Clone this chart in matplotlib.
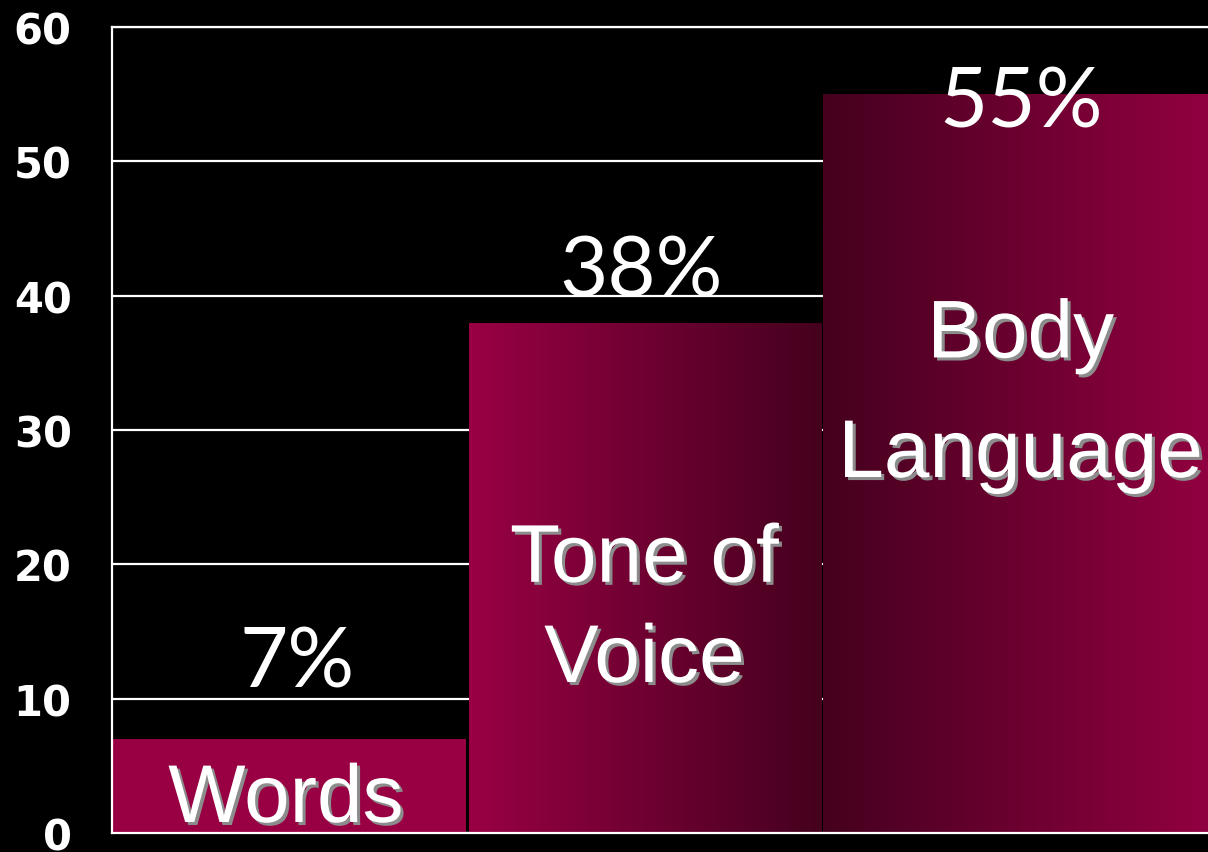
import numpy as np
import matplotlib
matplotlib.use("Agg")
import matplotlib.pyplot as plt
from matplotlib import patheffects
from matplotlib.colors import LinearSegmentedColormap

# Share of communication impact by channel (percent)
categories = ["Words", "Tone of Voice", "Body Language"]
values = [7, 38, 55]
label_lines = [["Words"], ["Tone of", "Voice"], ["Body", "Language"]]
y_ticks = [0, 10, 20, 30, 40, 50, 60]

CRIMSON = "#990044"
DARK = "#45001e"

fig = plt.figure(figsize=(12.08, 8.53), dpi=100, facecolor="black")
ax = fig.add_axes([112 / 1208, 19 / 853, 1136 / 1208, 806 / 853])
ax.set_facecolor("black")

# Horizontal grid lines behind the bars
ax.set_yticks(y_ticks)
ax.yaxis.grid(True, color="white", linewidth=1.6, zorder=0)
ax.set_axisbelow(True)
ax.set_xticks([])
ax.tick_params(axis="y", length=0, pad=29, labelsize=30, labelcolor="white")
for lbl in ax.get_yticklabels():
    lbl.set_fontweight("bold")
    lbl.set_fontfamily("DejaVu Sans")

ax.spines["right"].set_visible(False)
for side in ["left", "bottom", "top"]:
    ax.spines[side].set_color("white")
    ax.spines[side].set_linewidth(1.6)

x = np.arange(len(categories))
widths = [0.995, 0.992, 1.2]
lefts = x - 0.5 + np.array([0.003, 0.006, 0.004])
bars = ax.bar(lefts, values, width=widths, align="edge", color=CRIMSON,
              edgecolor="none", linewidth=0, zorder=2)

# Horizontal colour gradients: solid, fading right, fading left
gradients = [None, (CRIMSON, DARK), (DARK, CRIMSON)]
ramp = np.linspace(0, 1, 256).reshape(1, -1)
for bar, grad in zip(bars, gradients):
    if grad is None:
        continue
    cmap = LinearSegmentedColormap.from_list("g", list(grad))
    x0, y0 = bar.get_x(), bar.get_y()
    w, h = bar.get_width(), bar.get_height()
    im = ax.imshow(ramp, cmap=cmap, aspect="auto", extent=(x0, x0 + w, y0, y0 + h),
                   zorder=2.5, interpolation="bilinear")
    im.set_clip_path(bar)
ax.set_xlim(-0.5, 2.7)
ax.set_ylim(0, 60)

# Value labels
pct_y = [10.87, 40.0, 52.57]
pct_x = [0.02, 0.99, 2.06]
for xi, yi, v in zip(pct_x, pct_y, values):
    ax.text(xi, yi, f"{v}%", color="white", fontsize=60, fontfamily="Lato",
            fontweight="normal", ha="center", va="baseline", zorder=4)

# Category names with drop shadow
shadow = [patheffects.SimplePatchShadow(offset=(2.2, -2.2), shadow_rgbFace="#8c8c8c", alpha=1.0),
          patheffects.Normal()]
line_y = [[0.82], [18.7, 11.24], [35.4, 26.5]]
line_x = [-0.01, 1.0, 2.06]
for xi, ys, lines in zip(line_x, line_y, label_lines):
    for yi, txt in zip(ys, lines):
        ax.text(xi, yi, txt, color="white", fontsize=59, fontfamily="Liberation Sans",
                ha="center", va="baseline", zorder=5, path_effects=shadow)

fig.savefig("out.png", dpi=100, facecolor="black")
